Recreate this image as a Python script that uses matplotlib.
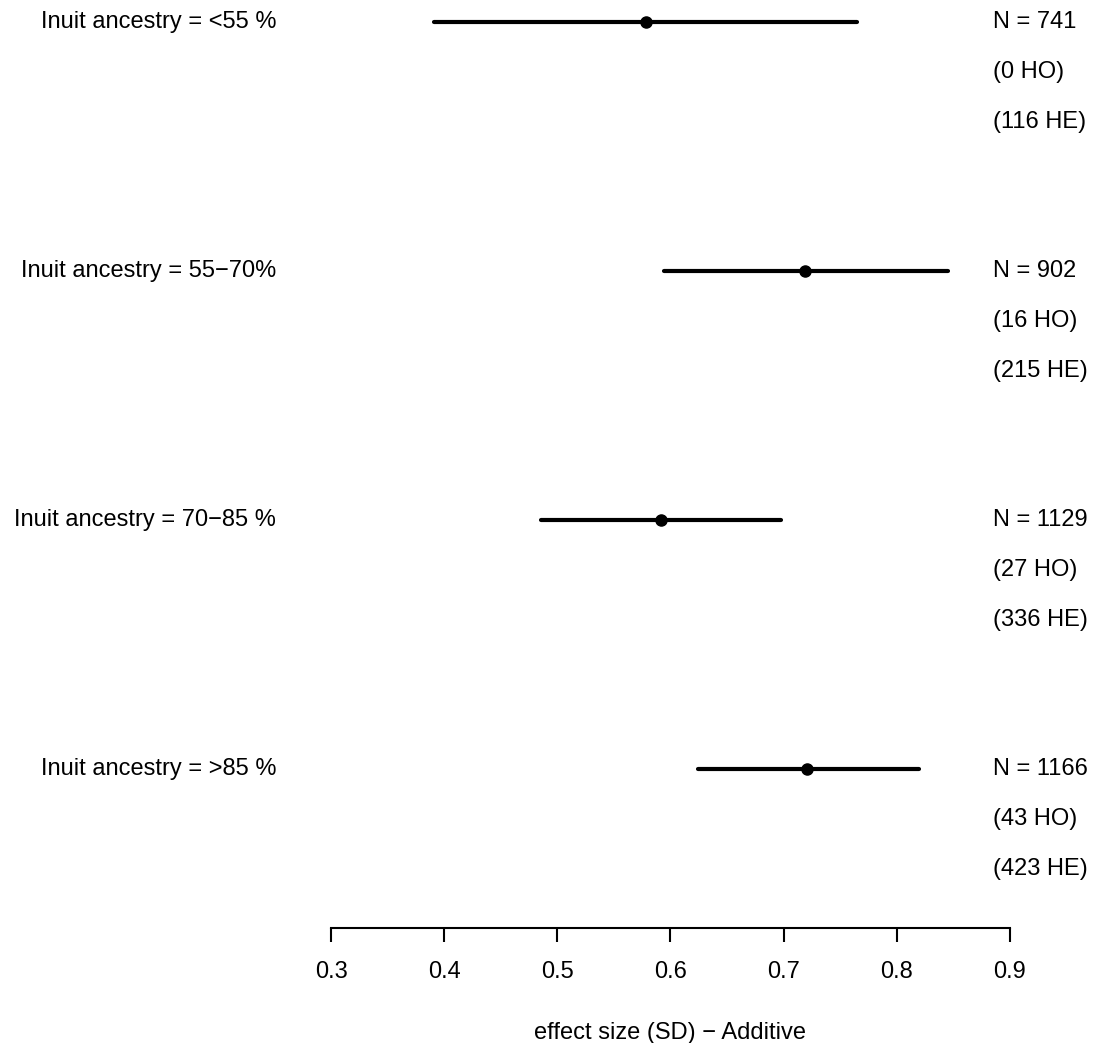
import matplotlib
matplotlib.use("Agg")
import matplotlib.pyplot as plt

# ── Data ───────────────────────────────────────────────────────────────
groups = [
    "Inuit ancestry = <55 %",
    "Inuit ancestry = 55\u221270%",
    "Inuit ancestry = 70\u221285 %",
    "Inuit ancestry = >85 %",
]
estimate = [0.578, 0.719, 0.592, 0.721]
ci_low   = [0.391, 0.594, 0.486, 0.624]
ci_high  = [0.765, 0.845, 0.698, 0.820]
n_total  = [741, 902, 1129, 1166]
n_ho     = [0, 16, 27, 43]
n_he     = [116, 215, 336, 423]

xticks = [0.3, 0.4, 0.5, 0.6, 0.7, 0.8, 0.9]
xlabel = "effect size (SD) \u2212 Additive"

plt.rcParams["font.family"] = ["Liberation Sans", "DejaVu Sans"]
FS = 17

fig = plt.figure(figsize=(10.99, 10.43), dpi=100)
W, H = 1099, 1043
ax = fig.add_axes([331 / W, 1 - 928 / H, (1010 - 331) / W, (928 - 22) / H])

ypos = [3 - i for i in range(len(groups))]
for y, lo, hi, est in zip(ypos, ci_low, ci_high, estimate):
    ax.plot([lo, hi], [y, y], color="black", lw=3, solid_capstyle="round",
            clip_on=False)
    ax.plot(est, y, "o", color="black", ms=8, clip_on=False)

# row labels left and counts right
for y, g, n, ho, he in zip(ypos, groups, n_total, n_ho, n_he):
    ax.text(0.2514, y, g, ha="right", va="center", fontsize=FS, clip_on=False)
    ax.text(0.8846, y, f"N = {n}", ha="left", va="center", fontsize=FS,
            clip_on=False)
    ax.text(0.8846, y - 0.2, f"({ho} HO)", ha="left", va="center",
            fontsize=FS, clip_on=False)
    ax.text(0.8846, y - 0.4, f"({he} HE)", ha="left", va="center",
            fontsize=FS, clip_on=False)

ax.set_xlim(0.3, 0.9)
ax.set_ylim(3 - (928 - 22) / 249, 3)
ax.set_xticks(xticks)
ax.set_xticklabels([f"{t:.1f}" for t in xticks], fontsize=FS)
ax.tick_params(axis="x", length=10, width=1.5, pad=14)
ax.set_yticks([])
for side in ["top", "right", "left"]:
    ax.spines[side].set_visible(False)
ax.spines["bottom"].set_linewidth(1.5)
ax.set_xlabel(xlabel, fontsize=FS, labelpad=28)

fig.savefig("out.png", dpi=100, facecolor="white")
